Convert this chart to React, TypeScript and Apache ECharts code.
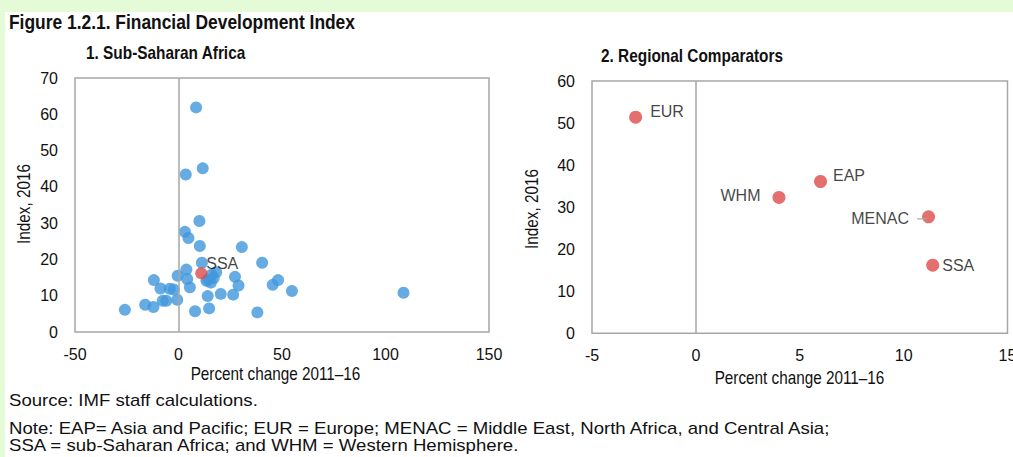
import React, { useEffect, useRef } from "react";
import * as echarts from "echarts";

// ---- Data ----
const ssaCountries: [number, number][] = [
  [8.5, 61.9], [11.7, 45.1], [3.5, 43.4], [10.1, 30.6], [3.1, 27.6], [4.8, 25.9],
  [10.3, 23.7], [30.6, 23.4], [40.4, 19.1], [11.3, 19.1], [3.8, 17.2], [-0.4, 15.5],
  [4.2, 14.6], [-11.9, 14.3], [-8.7, 12.0], [-4.2, 11.9], [-2.3, 11.7], [5.5, 12.3],
  [-0.6, 8.9], [-7.6, 8.6], [-5.9, 8.6], [-16.1, 7.5], [-12.1, 6.9], [-25.9, 6.1],
  [8.0, 5.7], [14.8, 6.5], [14.1, 9.9], [20.4, 10.5], [26.4, 10.3], [27.3, 15.2],
  [29.0, 12.8], [38.1, 5.4], [45.5, 13.0], [48.1, 14.3], [54.8, 11.3], [108.7, 10.8],
  [18.2, 16.5], [17.0, 14.9], [14.3, 14.4], [15.6, 13.6], [13.5, 14.1], [16.0, 15.8],
];
const ssaAggregate: [number, number] = [11.0, 16.2];

const regionNames = ["EUR", "EAP", "WHM", "MENAC", "SSA"];
const regionChange = [-2.9, 6.0, 4.0, 11.2, 11.4];
const regionIndex = [51.4, 36.1, 32.3, 27.7, 16.2];

const leftXTicks = { min: -50, max: 150, interval: 50 };
const leftYTicks = { min: 0, max: 70, interval: 10 };
const rightXTicks = { min: -5, max: 15, interval: 5 };
const rightYTicks = { min: 0, max: 60, interval: 10 };

const titleText = "Figure 1.2.1. Financial Development Index";
const panel1Title = "1. Sub-Saharan Africa";
const panel2Title = "2. Regional Comparators";
const xName = "Percent change 2011\u201316";
const yName = "Index, 2016";
const sourceText = "Source: IMF staff calculations.";
const noteLine1 = "Note: EAP= Asia and Pacific; EUR = Europe; MENAC = Middle East, North Africa, and Central Asia;";
const noteLine2 = "SSA = sub-Saharan Africa; and WHM = Western Hemisphere.";

// ---- Styles ----
const FONT = "'Liberation Sans', Arial, sans-serif";
const TXT = "#111";
const GRAY = "#A6A6A6";
const BLUE = "#4097DC";
const RED = "#DC4B4B";
const GREEN = "#E5FBD8";
const LBL = 16;

const regionLabelCfg: Record<string, any> = {
  EUR: { position: "right", distance: 8, offset: [0, -6] },
  EAP: { position: "right", distance: 6, offset: [0, -6] },
  WHM: { position: "left", distance: 12, offset: [0, -2] },
  MENAC: { position: "left", distance: -5, offset: [0, 2], leader: true },
  SSA: { position: "right", distance: 3, offset: [0, 0] },
};

export default function App() {
  const ref = useRef<HTMLDivElement>(null);
  useEffect(() => {
    document.body.style.margin = "0";
    if (!ref.current) return;
    const chart = echarts.init(ref.current, undefined, { renderer: "svg" });

    const axisLabel = { fontFamily: FONT, fontSize: LBL, color: TXT };
    const mkX = (t: any, idx: number) => ({
      type: "value", gridIndex: idx, min: t.min, max: t.max, interval: t.interval,
      axisLine: { show: false }, axisTick: { show: false }, splitLine: { show: false },
      axisLabel: { ...axisLabel, margin: 14 },
    });
    const mkY = (t: any, idx: number) => ({
      type: "value", gridIndex: idx, min: t.min, max: t.max, interval: t.interval,
      axisLine: { show: false }, axisTick: { show: false }, splitLine: { show: false },
      axisLabel: { ...axisLabel, margin: 17 },
    });
    const zeroLine = {
      silent: true, symbol: "none", label: { show: false },
      lineStyle: { color: GRAY, width: 1.5, type: "solid" },
      data: [{ xAxis: 0 }],
    };

    const regionData = regionNames.map((n, i) => {
      const c = regionLabelCfg[n];
      return {
        name: n,
        value: [regionChange[i], regionIndex[i]],
        label: {
          show: true, position: c.position, distance: c.distance, offset: c.offset,
          formatter: c.leader ? `{t|${n}}{g|}{l|}` : n,
          fontFamily: FONT, fontSize: LBL, color: TXT,
          rich: c.leader ? {
            t: { fontFamily: FONT, fontSize: LBL, color: TXT },
            g: { width: 8, height: 2 },
            l: { width: 10, height: 1.5, backgroundColor: GRAY },
          } : undefined,
        },
      };
    });

    const txt = (text: string, x: number, y: number, font: string, sx: number, extra: any = {}) => ({
      type: "text", x, y, z: 10, scaleX: sx,
      style: { text, fill: TXT, font, textVerticalAlign: "middle", ...extra },
    });

    chart.setOption({
      animation: false,
      backgroundColor: "#fff",
      grid: [
        { left: 75, top: 78, width: 414, height: 254, show: true, borderColor: GRAY, borderWidth: 1.5, backgroundColor: "#fff", containLabel: false, outerBoundsMode: "none" },
        { left: 592, top: 81, width: 415.5, height: 252.3, show: true, borderColor: GRAY, borderWidth: 1.5, backgroundColor: "#fff", containLabel: false, outerBoundsMode: "none" },
      ],
      xAxis: [mkX(leftXTicks, 0), mkX(rightXTicks, 1)],
      yAxis: [mkY(leftYTicks, 0), mkY(rightYTicks, 1)],
      series: [
        {
          type: "scatter", xAxisIndex: 0, yAxisIndex: 0, symbolSize: 12,
          itemStyle: { color: BLUE }, data: ssaCountries, markLine: zeroLine, z: 2,
        },
        {
          type: "scatter", xAxisIndex: 0, yAxisIndex: 0, symbolSize: 12, z: 3,
          itemStyle: { color: RED },
          data: [{
            name: "SSA", value: ssaAggregate,
            label: { show: true, position: "right", distance: -1, offset: [0, -10], formatter: "SSA", fontFamily: FONT, fontSize: LBL, color: TXT },
          }],
        },
        {
          type: "scatter", xAxisIndex: 1, yAxisIndex: 1, symbolSize: 13,
          itemStyle: { color: RED }, data: regionData, markLine: zeroLine, z: 3,
        },
      ],
      graphic: [
        { type: "rect", z: -1, shape: { x: 0, y: 0, width: 1013, height: 12 }, style: { fill: GREEN } },
        { type: "rect", z: -1, shape: { x: 0, y: 0, width: 5, height: 457 }, style: { fill: GREEN } },
        txt(titleText, 9, 22.5, `bold 20px ${FONT}`, 0.87),
        txt(panel1Title, 86, 53.5, `bold 18px ${FONT}`, 0.855),
        txt(panel2Title, 601, 56, `bold 18px ${FONT}`, 0.855),
        txt(xName, 275.5, 374.5, `18px ${FONT}`, 0.85, { textAlign: "center" }),
        txt(xName, 799.5, 378, `18px ${FONT}`, 0.85, { textAlign: "center" }),
        { type: "text", x: 24, y: 204, rotation: Math.PI / 2, scaleX: 0.85, z: 10,
          style: { text: yName, fill: TXT, font: `18px ${FONT}`, textAlign: "center", textVerticalAlign: "middle" } },
        { type: "text", x: 531.7, y: 209, rotation: Math.PI / 2, scaleX: 0.85, z: 10,
          style: { text: yName, fill: TXT, font: `18px ${FONT}`, textAlign: "center", textVerticalAlign: "middle" } },
        txt(sourceText, 9, 400.5, `17px ${FONT}`, 1.095),
        txt(noteLine1, 9, 428, `17px ${FONT}`, 1.095),
        txt(noteLine2, 9, 445, `17px ${FONT}`, 1.095),
      ],
    });
    return () => chart.dispose();
  }, []);
  return <div ref={ref} style={{ width: 1013, height: 457 }} />;
}
